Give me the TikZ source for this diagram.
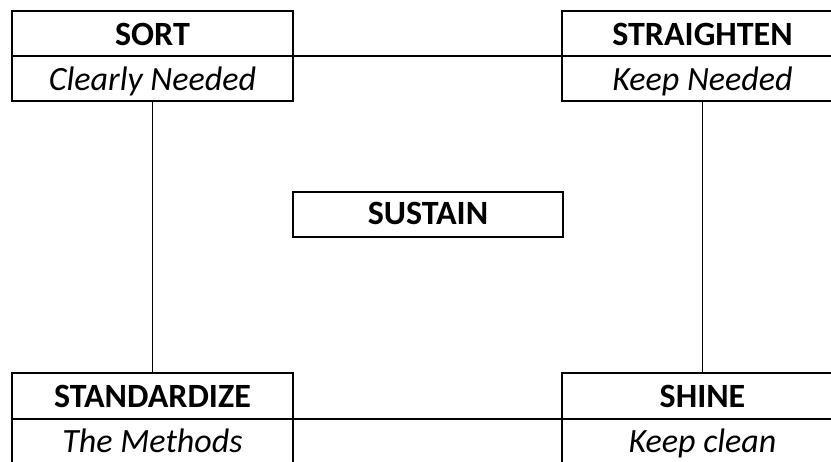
\documentclass[tikz,border=0pt]{standalone}
\usepackage{fontspec}
\setmainfont{Carlito}
\begin{document}
\begin{tikzpicture}[x=0.75pt,y=-0.75pt,
  box/.style={draw=black, line width=1.2pt, outer sep=0pt, minimum width=210.75pt, minimum height=33.75pt,
    inner sep=0pt, text height=17.25pt, text depth=0pt, anchor=north west},
  head/.style={box, font=\fontsize{25.5}{29}\selectfont\bfseries},
  sub/.style={box, font=\fontsize{25.5}{29}\selectfont\itshape},
  link/.style={line width=1.2pt}]
\useasboundingbox (0,0) rectangle (831,461);
\clip (0,0) rectangle (831,461);
% top-left
\node[head] (sortT) at (12,11) {SORT};
\node[sub] (sortS) at (sortT.south west) {Clearly Needed};
% top-right
\node[head] (straT) at (562,11) {STRAIGHTEN};
\node[sub] (straS) at (straT.south west) {Keep Needed};
% bottom-left
\node[head, minimum height=34.5pt] (stdT) at (12,373) {STANDARDIZE};
\node[sub, text height=16pt] (stdS) at (stdT.south west) {The Methods};
% bottom-right
\node[head, minimum height=34.5pt] (shineT) at (562,373) {SHINE};
\node[sub, text height=16pt] (shineS) at (shineT.south west) {Keep clean};
% centre
\node[head, minimum width=202.5pt, minimum height=33.75pt, text height=14.5pt] (sustain) at (293,192) {SUSTAIN};
% connectors
\draw[link] (sortT.south east) -- (straT.south west);
\draw[link] (stdT.south east) -- (shineT.south west);
\draw[link] (sortS.south) -- (stdT.north);
\draw[link] (straS.south) -- (shineT.north);
\end{tikzpicture}
\end{document}
